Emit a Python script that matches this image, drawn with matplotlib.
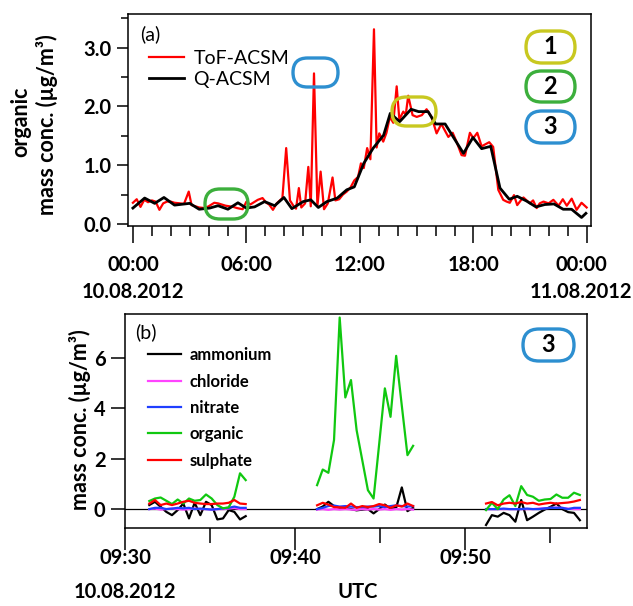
import numpy as np
import matplotlib
matplotlib.use('Agg')
import matplotlib.pyplot as plt
from matplotlib.patches import FancyBboxPatch
from matplotlib.transforms import IdentityTransform, ScaledTranslation
from matplotlib.ticker import FixedLocator, FixedFormatter, MultipleLocator

plt.rcParams['font.family'] = ['Lato', 'DejaVu Sans']

# ---- panel (a): organic, full day (hours after 00:00 UTC 10.08.2012)
tof_h = [0.0, 0.2, 0.4, 0.6, 0.8, 1.0, 1.2, 1.4, 1.6, 1.8, 2.0, 2.2, 2.5, 2.7, 2.95,
         3.1, 3.3, 3.5, 3.8, 4.0, 4.3, 4.5, 4.7, 4.9, 5.1, 5.3, 5.5, 5.8, 6.0, 6.2,
         6.4, 6.6, 6.85, 7.05, 7.2, 7.4, 7.6, 7.9, 8.1, 8.3, 8.5, 8.62, 8.77, 8.9,
         9.1, 9.27, 9.4, 9.57, 9.75, 9.92, 10.1, 10.3, 10.55, 10.7, 10.9, 11.1, 11.3,
         11.5, 11.7, 11.9, 12.05, 12.2, 12.38, 12.55, 12.74, 12.88, 13.02, 13.23,
         13.4, 13.58, 13.76, 13.94, 14.08, 14.29, 14.42, 14.55, 14.78, 15.0, 15.27,
         15.52, 15.78, 16.05, 16.3, 16.67, 16.9, 17.1, 17.37, 17.55, 17.81, 17.99,
         18.2, 18.43, 18.6, 18.83, 19.04, 19.31, 19.57, 19.75, 19.92, 20.14, 20.31,
         20.5, 20.64, 20.98, 21.15, 21.34, 21.5, 21.7, 21.97, 22.22, 22.5, 22.72,
         22.93, 23.19, 23.45, 23.71, 23.98]
tof_org = [0.36, 0.42, 0.29, 0.41, 0.37, 0.40, 0.38, 0.24, 0.35, 0.38, 0.38, 0.36,
           0.35, 0.34, 0.55, 0.32, 0.30, 0.28, 0.27, 0.30, 0.36, 0.35, 0.33, 0.31,
           0.30, 0.29, 0.27, 0.25, 0.38, 0.33, 0.37, 0.41, 0.44, 0.36, 0.33, 0.24,
           0.35, 0.44, 1.29, 0.40, 0.30, 0.26, 0.61, 0.28, 0.35, 0.97, 0.30, 2.56,
           0.30, 0.89, 0.25, 0.35, 0.79, 0.40, 0.42, 0.50, 0.55, 0.62, 0.74, 0.80,
           1.03, 0.95, 1.29, 1.10, 3.31, 1.30, 1.54, 1.40, 1.55, 1.82, 1.72, 2.34,
           1.78, 1.91, 1.86, 2.18, 1.85, 1.82, 1.85, 1.95, 1.82, 1.54, 1.70, 1.48,
           1.55, 1.40, 1.17, 1.16, 1.55, 1.46, 1.55, 1.32, 1.35, 1.39, 1.31, 0.58,
           0.41, 0.38, 0.36, 0.49, 0.32, 0.40, 0.45, 0.35, 0.40, 0.27, 0.35, 0.38,
           0.35, 0.41, 0.31, 0.42, 0.31, 0.43, 0.24, 0.36, 0.28]

q_h = [0.0, 0.62, 1.15, 1.64, 2.2, 3.0, 3.5, 4.06, 4.5, 5.02, 5.55, 5.99, 6.43, 6.96,
       7.49, 7.98, 8.4, 9.0, 9.4, 9.8, 10.25, 10.8, 11.3, 11.7, 12.2, 12.7, 13.25,
       13.6, 14.1, 14.7, 15.1, 15.6, 16.0, 16.5, 17.47, 17.97, 18.43, 18.91, 19.4,
       19.89, 20.31, 20.8, 21.3, 21.77, 22.25, 22.74, 23.18, 23.71, 23.94]
q_org = [0.27, 0.44, 0.35, 0.45, 0.32, 0.35, 0.25, 0.27, 0.31, 0.25, 0.36, 0.27,
         0.29, 0.38, 0.31, 0.45, 0.26, 0.38, 0.41, 0.28, 0.38, 0.44, 0.58, 0.63,
         1.03, 1.29, 1.51, 1.88, 1.74, 1.95, 1.91, 1.91, 1.70, 1.70, 1.20, 1.47,
         1.28, 1.32, 0.61, 0.42, 0.47, 0.39, 0.29, 0.33, 0.34, 0.25, 0.25, 0.11, 0.18]

top_ticks = [0, 6, 12, 18, 24]
top_ticklabels = ['00:00\n10.08.2012', '06:00', '12:00', '18:00', '00:00\n11.08.2012']

# ---- panel (b): species in event 3 (minutes after 09:00 UTC)
seg_start = [31.43, 41.30, 51.24]
seg_end = [37.10, 46.95, 56.76]
ammonium = [
    [0.16, 0.29, 0.09, -0.11, -0.24, -0.04, 0.22, -0.37, 0.25, -0.24, 0.29, 0.16,
     -0.41, -0.37, -0.04, -0.11, -0.41, -0.28],
    [0.0, 0.10, 0.29, 0.12, 0.05, 0.05, 0.0, -0.05, -0.02, 0.0, -0.17, 0.0, 0.18,
     0.02, 0.05, 0.86, -0.08, 0.05],
    [-0.63, -0.24, -0.30, -0.15, -0.24, -0.50, 0.36, -0.44, -0.30, -0.15, -0.02,
     0.09, 0.22, 0.0, -0.12, -0.15, -0.44],
]
chloride = [
    [0.0, 0.02, -0.02, 0.0, 0.02, 0.0, -0.02, 0.0, 0.02, 0.0, 0.0, -0.02, 0.0, 0.0,
     0.02, 0.04, 0.0, 0.0],
    [-0.02, 0.0, -0.03, 0.0, -0.02, 0.0, -0.02, -0.03, 0.0, -0.02, 0.0, -0.02, 0.0,
     -0.03, 0.0, -0.02, 0.0, -0.02],
    [0.0, 0.0, 0.0, 0.0, 0.0, 0.0, 0.0, 0.0, 0.0, 0.02, 0.03, 0.05, 0.06, 0.05, 0.02,
     0.0, 0.0],
]
nitrate = [
    [0.0, 0.05, 0.05, 0.0, 0.02, 0.05, 0.03, 0.05, 0.0, 0.02, 0.0, -0.02, 0.0, 0.03,
     0.05, 0.10, 0.05, 0.05],
    [0.0, 0.05, 0.12, 0.14, 0.10, 0.12, 0.10, 0.08, 0.08, 0.10, 0.10, 0.12, 0.08,
     0.12, 0.15, 0.12, 0.10, 0.12],
    [0.0, 0.0, 0.0, 0.02, 0.0, 0.0, 0.0, 0.02, 0.0, 0.0, 0.03, 0.05, 0.05, 0.05, 0.0,
     0.05, 0.05],
]
organic = [
    [0.32, 0.42, 0.46, 0.33, 0.20, 0.38, 0.22, 0.42, 0.33, 0.36, 0.58, 0.42, 0.16,
     0.03, 0.07, 0.49, 1.42, 1.15],
    [0.95, 1.57, 1.44, 2.74, 7.6, 4.43, 5.12, 3.13, 1.94, 0.75, 0.42, 2.6, 4.79, 3.66,
     6.08, 4.1, 2.14, 2.51],
    [-0.04, 0.25, 0.0, 0.38, 0.55, 0.12, 0.91, 0.56, 0.49, 0.33, 0.38, 0.40, 0.58,
     0.45, 0.45, 0.65, 0.56],
]
sulphate = [
    [0.22, 0.36, 0.16, 0.22, 0.16, 0.22, 0.29, 0.33, 0.25, 0.22, 0.20, 0.20, 0.22,
     0.22, 0.25, 0.36, 0.22, 0.20],
    [0.15, 0.25, 0.18, 0.08, 0.07, 0.05, 0.22, 0.05, 0.12, 0.08, 0.12, 0.20, 0.15,
     0.05, 0.15, 0.10, 0.22, 0.12],
    [0.22, 0.28, 0.15, 0.22, 0.25, 0.22, 0.28, 0.22, 0.25, 0.18, 0.22, 0.25, 0.22,
     0.24, 0.26, 0.30, 0.36],
]
species = ['ammonium', 'chloride', 'nitrate', 'organic', 'sulphate']
species_data = [ammonium, chloride, nitrate, organic, sulphate]
species_colors = ['black', '#ff44ff', '#1f3fff', '#10c810', '#ff0000']

bot_ticks = [30, 40, 50]
bot_ticklabels = ['09:30\n10.08.2012', '09:40', '09:50']

W, H = 633, 606
fig = plt.figure(figsize=(W / 100, H / 100), dpi=100)

def px_axes(l, t, r, b):
    return fig.add_axes([l / W, 1 - b / H, (r - l) / W, (b - t) / H])

# ---------------- top panel
ax1 = px_axes(128, 14, 591, 226)
ax1.plot(tof_h, tof_org, color='#ff0000', lw=1.6, label='ToF-ACSM')
ax1.plot(q_h, q_org, color='black', lw=2.0, label='Q-ACSM')
ax1.set_xlim(-0.26, 24.21)
ax1.set_ylim(-0.035, 3.57)
ax1.yaxis.set_major_locator(FixedLocator([0, 1, 2, 3]))
ax1.yaxis.set_major_formatter(FixedFormatter(['0.0', '1.0', '2.0', '3.0']))
ax1.yaxis.set_minor_locator(MultipleLocator(0.5))
ax1.xaxis.set_major_locator(FixedLocator(top_ticks))
ax1.xaxis.set_major_formatter(FixedFormatter(top_ticklabels))
ax1.xaxis.set_minor_locator(MultipleLocator(1))
ax1.tick_params(axis='x', which='major', length=12, width=1.1, pad=9, labelsize=14.5)
ax1.tick_params(axis='x', which='minor', length=7, width=1.1)
ax1.tick_params(axis='y', which='major', length=8, width=1.1, pad=4, labelsize=14.5)
ax1.tick_params(axis='y', which='minor', length=5, width=1.1)
for lab in ax1.get_xticklabels() + ax1.get_yticklabels():
    lab.set_fontweight('bold')
for lab in ax1.get_xticklabels():
    lab.set_linespacing(1.45)
last = ax1.get_xticklabels()[-1]
last.set_transform(last.get_transform() + ScaledTranslation(-6 / 100, 0, fig.dpi_scale_trans))
for s in ax1.spines.values():
    s.set_linewidth(1.1)
ax1.text(0.027, 0.905, '(a)', transform=ax1.transAxes, fontsize=14, va='center')
ax1.legend(loc='upper left', bbox_to_anchor=(0.045, 0.83), frameon=False, fontsize=14,
           handlelength=1.8, handletextpad=0.5, labelspacing=0.2, borderpad=0,
           borderaxespad=0)
fig.text(21 / W, 1 - 122 / H, 'organic', rotation=90, fontsize=15.5, fontweight='bold',
         ha='center', va='center')
fig.text(47 / W, 1 - 125 / H, 'mass conc. (µg/m³)', rotation=90, fontsize=15.5,
         fontweight='bold', ha='center', va='center')

# ---------------- bottom panel
ax2 = px_axes(125, 314, 587, 528)
for name, data, col in zip(species, species_data, species_colors):
    for k in range(3):
        t = np.linspace(seg_start[k], seg_end[k], len(data[k]))
        ax2.plot(t, data[k], color=col, lw=1.6, label=name if k == 0 else None)
ax2.axhline(0, color='black', lw=0.9, zorder=0)
ax2.set_xlim(30, 57.18)
ax2.set_ylim(-0.75, 7.74)
ax2.yaxis.set_major_locator(FixedLocator([0, 2, 4, 6]))
ax2.xaxis.set_major_locator(FixedLocator(bot_ticks))
ax2.xaxis.set_major_formatter(FixedFormatter(bot_ticklabels))
ax2.xaxis.set_minor_locator(FixedLocator([35, 45, 55]))
ax2.tick_params(axis='x', which='major', length=16, width=1.1, pad=-1.5, labelsize=14.5)
ax2.tick_params(axis='x', which='minor', length=11, width=1.1)
ax2.tick_params(axis='y', which='major', length=10, width=1.1, pad=4, labelsize=14.5)
for lab in ax2.get_xticklabels() + ax2.get_yticklabels():
    lab.set_fontweight('bold')
for lab in ax2.get_xticklabels():
    lab.set_linespacing(1.85)
for s in ax2.spines.values():
    s.set_linewidth(1.1)
ax2.text(0.022, 0.916, '(b)', transform=ax2.transAxes, fontsize=14, va='center')
ax2.legend(loc='upper left', bbox_to_anchor=(0.05, 0.845), frameon=False,
           prop={'size': 12, 'weight': 'bold'}, handlelength=2.0,
           handletextpad=0.5, labelspacing=0.62, borderpad=0, borderaxespad=0)
fig.text(358 / W, 1 - 592 / H, 'UTC', fontsize=14.5, fontweight='bold',
         ha='center', va='center')
fig.text(80 / W, 1 - 420 / H, 'mass conc. (µg/m³)', rotation=90, fontsize=15.5,
         fontweight='bold', ha='center', va='center')

# ---------------- rounded marker boxes (pixel coordinates)
def rbox(x0, y0, x1, y1, color, label=None):
    p = FancyBboxPatch((x0, H - y1), x1 - x0, y1 - y0,
                       boxstyle='round,pad=0,rounding_size=%g' % ((y1 - y0) / 2.0),
                       transform=IdentityTransform(), fill=False, edgecolor=color,
                       linewidth=2.4)
    fig.patches.append(p)
    if label:
        fig.text((x0 + x1) / 2 / W, 1 - (y0 + y1) / 2 / H, label, fontsize=17,
                 fontweight='bold', ha='center', va='center')

yellow = '#c8c820'
green = '#3caf3c'
blue = '#2d8fd0'
rbox(526, 31, 575, 63, yellow, '1')
rbox(526, 71, 575, 102, green, '2')
rbox(526, 111, 575, 143, blue, '3')
rbox(523, 329, 574, 361, blue, '3')
rbox(293, 58, 338, 87, blue)
rbox(205, 189, 248, 219, green)
rbox(392, 97, 436, 126, yellow)

fig.savefig('out.png', dpi=100)
